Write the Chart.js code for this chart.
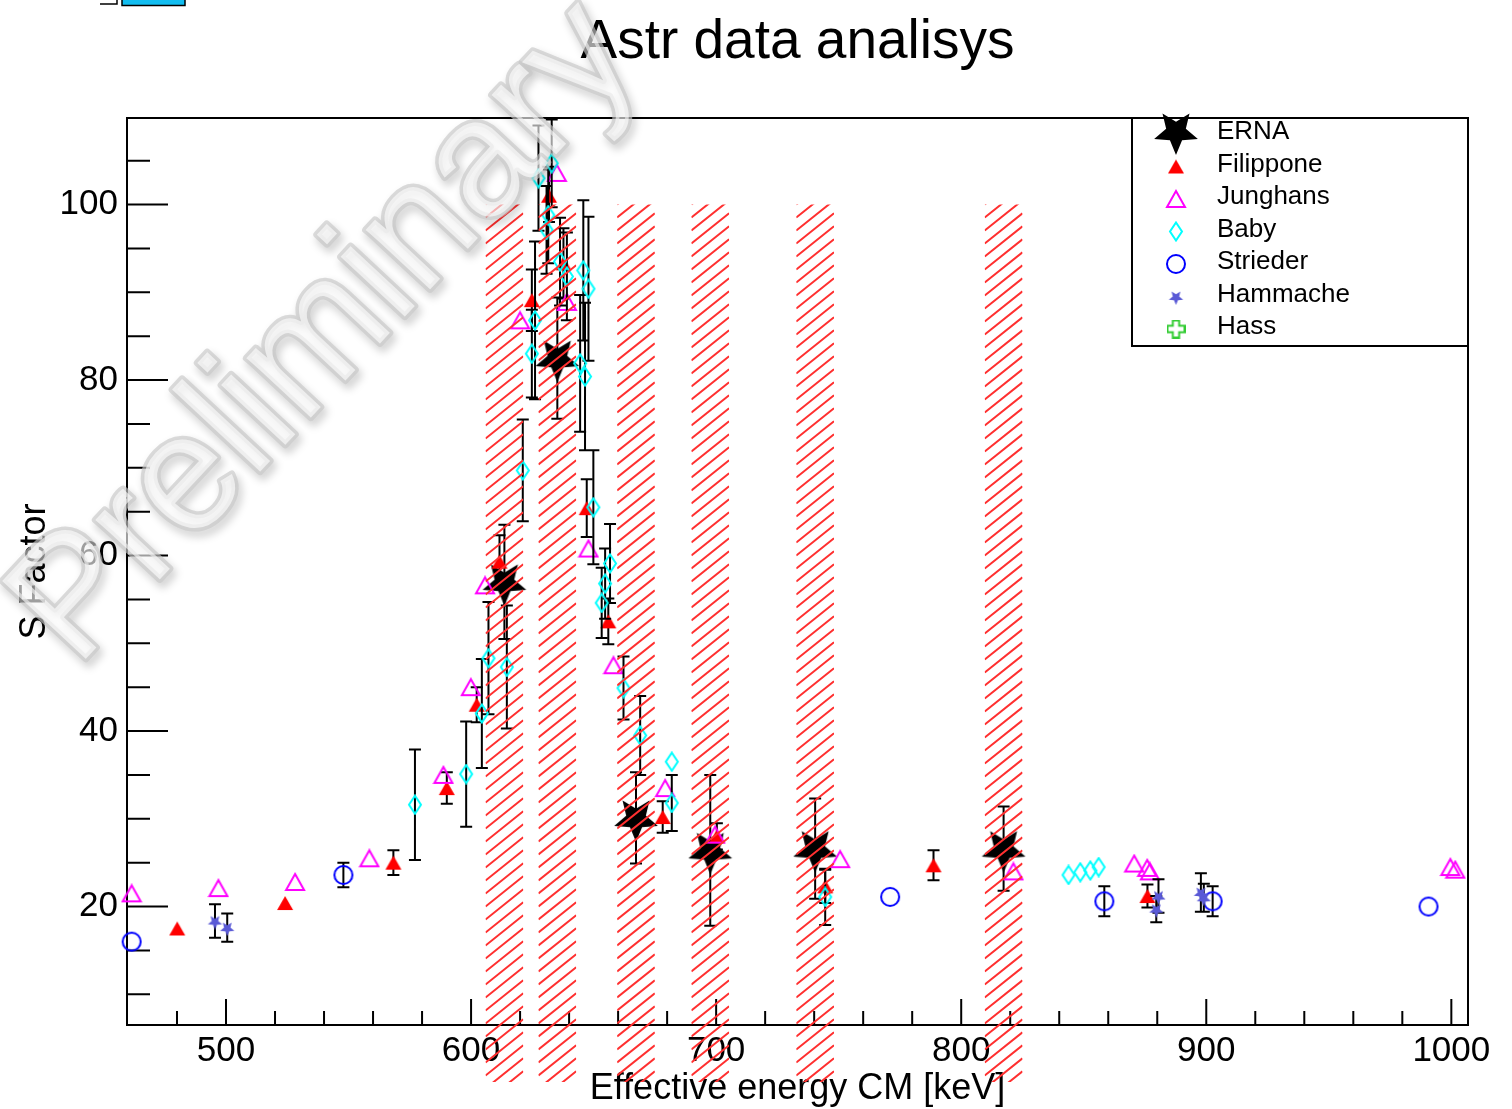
<!DOCTYPE html>
<html>
<head>
<meta charset="utf-8">
<script src="https://cdn.jsdelivr.net/npm/chart.js@4.4.0/dist/chart.umd.min.js"></script>
<style>
  html, body { margin: 0; padding: 0; background: #fff; }
  canvas { display: block; }
</style>
</head>
<body>
<canvas id="sfactor" width="1512" height="1109"></canvas>
<script>
// S factor vs effective CM energy, one set of arrays per experiment
var ernaE   = [613.6, 635.2, 667.3, 697.6, 740.4, 817.3];
var ernaS   = [57.0, 82.5, 30.1, 26.4, 26.6, 26.6];
var ernaErr = [6.5, 6.9, 5.2, 8.6, 5.7, 4.8];

var filipponeE   = [480.1, 524.1, 568.3, 590.1, 602.3, 611.6, 624.8, 631.8, 637.7, 647.2, 656.0, 678.2, 700.3, 744.5, 788.7, 876.0];
var filipponeS   = [17.5, 20.4, 25.0, 33.5, 43.0, 59.3, 89.1, 101.0, 93.3, 65.4, 52.5, 30.2, 28.0, 22.3, 24.7, 21.2];
var filipponeErr = [0, 0, 1.4, 1.8, 2.0, 3.0, 3.5, 3.0, 4.0, 3.3, 2.6, 1.8, 1.5, 1.9, 1.7, 1.3];

var junghansE = [461.5, 496.9, 528.2, 558.5, 588.7, 599.9, 605.7, 620.0, 635.0, 639.1, 647.9, 658.1, 679.2, 699.6, 750.6, 821.3, 870.6, 875.9, 877.0, 999.6, 1001.6];
var junghansS = [21.5, 22.1, 22.8, 25.5, 35.0, 45.0, 56.6, 86.8, 103.6, 88.9, 60.8, 47.5, 33.5, 28.2, 25.4, 24.0, 24.9, 24.4, 24.0, 24.5, 24.2];

var babyE   = [577.1, 598.0, 604.4, 607.1, 614.6, 621.1, 624.8, 626.1, 627.5, 630.8, 631.5, 632.9, 636.3, 639.1, 644.5, 645.8, 646.5, 647.9, 649.9, 653.3, 654.7, 656.7, 662.2, 669.0, 681.9, 681.9, 744.5, 843.8, 848.6, 852.7, 856.1];
var babyS   = [31.6, 35.1, 42.0, 48.3, 47.3, 69.7, 83.0, 86.8, 103.0, 97.1, 98.8, 104.7, 93.5, 91.8, 81.9, 92.5, 80.4, 90.4, 65.5, 54.6, 56.8, 59.1, 44.9, 39.5, 36.5, 31.8, 21.1, 23.6, 23.9, 24.1, 24.5];
var babyErr = [6.3, 6.0, 6.2, 6.4, 7.0, 5.8, 5.0, 9.0, 6.0, 5.0, 5.5, 5.0, 5.0, 5.0, 7.8, 8.0, 8.4, 8.2, 6.5, 4.0, 4.0, 4.5, 3.6, 4.5, 0, 3.2, 3.2, 0, 0, 0, 0];

var striederE   = [461.5, 547.9, 771.0, 858.4, 902.6, 990.7];
var striederS   = [16.0, 23.6, 21.1, 20.6, 20.6, 20.0];
var striederErr = [0, 1.4, 0, 1.7, 1.7, 0];

var hammacheE   = [495.5, 500.5, 880.5, 879.6, 897.8, 899.0];
var hammacheS   = [18.35, 17.6, 21.2, 19.7, 21.6, 21.0];
var hammacheErr = [1.9, 1.6, 1.9, 1.5, 2.2, 1.6];

var hassE = [];
var hassS = [];

var xMajor = [500, 600, 700, 800, 900, 1000];
var yMajor = [20, 40, 60, 80, 100];
var ernaWindow = 7.7;   // half width (keV) of the hatched ERNA energy windows

var FONT = '"Liberation Sans", Arial, Helvetica, sans-serif';
Chart.defaults.font.family = FONT;
Chart.defaults.color = '#000';

// ROOT-like marker images
function marker(kind, color, w, h) {
  var c = document.createElement('canvas');
  c.width = w; c.height = h;
  var g = c.getContext('2d');
  var cx = w / 2, cy = h / 2;
  g.strokeStyle = color; g.fillStyle = color; g.lineWidth = 2;
  g.beginPath();
  if (kind === 'star') {
    var R = w / 2 - 1, r = R * 0.45;
    for (var k = 0; k < 10; k++) {
      var a = Math.PI / 2 + k * Math.PI / 5;
      var rr = (k % 2) ? r : R;
      var px = cx + rr * Math.cos(a), py = cy + 1 + rr * Math.sin(a);
      k ? g.lineTo(px, py) : g.moveTo(px, py);
    }
    g.closePath(); g.fill();
  } else if (kind === 'tri') {
    g.moveTo(cx, 1); g.lineTo(w - 1, h - 1); g.lineTo(1, h - 1); g.closePath(); g.fill();
  } else if (kind === 'otri') {
    g.moveTo(cx, 2); g.lineTo(w - 2, h - 2); g.lineTo(2, h - 2); g.closePath(); g.stroke();
  } else if (kind === 'diamond') {
    g.moveTo(cx, 1.5); g.lineTo(w - 2, cy); g.lineTo(cx, h - 1.5); g.lineTo(2, cy); g.closePath(); g.stroke();
  } else if (kind === 'circle') {
    g.arc(cx, cy, w / 2 - 2, 0, Math.PI * 2); g.stroke();
  } else if (kind === 'cross') {
    var t = w / 6;
    g.moveTo(cx - t, 1); g.lineTo(cx + t, 1); g.lineTo(cx + t, cy - t); g.lineTo(w - 1, cy - t);
    g.lineTo(w - 1, cy + t); g.lineTo(cx + t, cy + t); g.lineTo(cx + t, h - 1); g.lineTo(cx - t, h - 1);
    g.lineTo(cx - t, cy + t); g.lineTo(1, cy + t); g.lineTo(1, cy - t); g.lineTo(cx - t, cy - t);
    g.closePath(); g.stroke();
  }
  return c;
}

var markers = {
  erna: marker('star', '#000000', 48, 48),
  filippone: marker('tri', '#ff0000', 18, 16),
  junghans: marker('otri', '#ff00ff', 22, 20),
  baby: marker('diamond', '#00ffff', 16, 21),
  strieder: marker('circle', '#0000ff', 22, 22),
  hammache: marker('star', '#5a5ad6', 17, 17),
  hass: marker('cross', '#33cc33', 19, 19)
};

function pts(xs, ys) {
  return xs.map(function (x, i) { return { x: x, y: ys[i] }; });
}

function series(label, xs, ys, errs, mk, order) {
  return {
    label: label,
    data: pts(xs, ys),
    errors: errs || null,
    pointStyle: mk,
    pointRadius: 8,
    showLine: false,
    clip: false,
    order: order
  };
}

var datasets = [
  series('ERNA', ernaE, ernaS, ernaErr, markers.erna, 7),
  series('Filippone', filipponeE, filipponeS, filipponeErr, markers.filippone, 6),
  series('Junghans', junghansE, junghansS, null, markers.junghans, 5),
  series('Baby', babyE, babyS, babyErr, markers.baby, 4),
  series('Strieder', striederE, striederS, striederErr, markers.strieder, 3),
  series('Hammache', hammacheE, hammacheS, hammacheErr, markers.hammache, 2),
  series('Hass', hassE, hassS, null, markers.hass, 1)
];

// error bars are drawn right before the markers of each dataset
var errorBars = {
  id: 'errorBars',
  beforeDatasetDraw: function (chart, args) {
    var ds = chart.data.datasets[args.index];
    if (!ds.errors) return;
    var ctx = chart.ctx, x = chart.scales.x, y = chart.scales.y, a = chart.chartArea;
    ctx.save();
    ctx.beginPath(); ctx.rect(a.left, a.top, a.right - a.left, a.bottom - a.top); ctx.clip();
    ctx.strokeStyle = '#000'; ctx.lineWidth = 2;
    ctx.beginPath();
    ds.data.forEach(function (p, i) {
      var e = ds.errors[i];
      if (!e) return;
      var X = x.getPixelForValue(p.x);
      var y0 = y.getPixelForValue(p.y - e), y1 = y.getPixelForValue(p.y + e);
      ctx.moveTo(X, y0); ctx.lineTo(X, y1);
      ctx.moveTo(X - 6, y0); ctx.lineTo(X + 6, y0);
      ctx.moveTo(X - 6, y1); ctx.lineTo(X + 6, y1);
    });
    ctx.stroke();
    ctx.restore();
  }
};

// frame with inward ticks; the title is centred over the frame
var frame = {
  id: 'frame',
  afterLayout: function (chart) {
    if (chart.titleBlock) {
      chart.titleBlock.left = chart.chartArea.left;
      chart.titleBlock.right = chart.chartArea.right;
    }
  },
  beforeDatasetsDraw: function (chart) {
    var ctx = chart.ctx, a = chart.chartArea, x = chart.scales.x, y = chart.scales.y;
    ctx.save();
    ctx.strokeStyle = '#000'; ctx.lineWidth = 2;
    ctx.strokeRect(a.left, a.top, a.right - a.left, a.bottom - a.top);
    ctx.beginPath();
    x.ticks.forEach(function (t) {
      var p = x.getPixelForValue(t.value);
      var len = xMajor.indexOf(t.value) >= 0 ? 26 : 14;
      ctx.moveTo(p, a.bottom); ctx.lineTo(p, a.bottom - len);
    });
    y.ticks.forEach(function (t) {
      var p = y.getPixelForValue(t.value);
      var len = yMajor.indexOf(t.value) >= 0 ? 41 : 23;
      ctx.moveTo(a.left, p); ctx.lineTo(a.left + len, p);
    });
    ctx.stroke();
    ctx.restore();
  }
};

function hatchBox(ctx, x0, y0, x1, y1) {
  ctx.save();
  ctx.beginPath(); ctx.rect(x0, y0, x1 - x0, y1 - y0); ctx.clip();
  ctx.strokeStyle = '#ff3030'; ctx.lineWidth = 2;
  var w = x1 - x0, rise = w * 0.8;
  ctx.beginPath();
  for (var yy = y0; yy < y1 + rise; yy += 13) {
    ctx.moveTo(x0, yy); ctx.lineTo(x1, yy - rise);
  }
  ctx.stroke();
  ctx.restore();
}

function drawLegend(chart) {
  var ctx = chart.ctx;
  var box = { l: 1132, t: 118, r: 1468, b: 346 };
  ctx.save();
  ctx.fillStyle = '#fff';
  ctx.fillRect(box.l, box.t, box.r - box.l, box.b - box.t);
  ctx.strokeStyle = '#000'; ctx.lineWidth = 2;
  ctx.strokeRect(box.l, box.t, box.r - box.l, box.b - box.t);
  ctx.font = '26px ' + FONT;
  ctx.fillStyle = '#000'; ctx.textBaseline = 'middle'; ctx.textAlign = 'left';
  chart.data.datasets.forEach(function (ds, i) {
    var yy = 132 + i * 32.5;
    var m = ds.pointStyle;
    ctx.drawImage(m, 1176 - m.width / 2, yy + (i === 0 ? -1 : 2) - m.height / 2);
    ctx.fillText(ds.label, 1217, yy);
  });
  ctx.restore();
}

// translucent embossed "Preliminary" stamp
function drawWatermark(ctx) {
  ctx.save();
  ctx.translate(326, 334);
  ctx.rotate(-47 * Math.PI / 180);
  ctx.font = '166px ' + FONT;
  ctx.textAlign = 'center'; ctx.textBaseline = 'middle';
  ctx.lineJoin = 'round';
  ctx.shadowColor = 'rgba(0,0,0,0.32)'; ctx.shadowBlur = 9;
  ctx.shadowOffsetX = 3; ctx.shadowOffsetY = 5;
  ctx.strokeStyle = 'rgba(200,200,200,0.65)'; ctx.lineWidth = 7;
  ctx.strokeText('Preliminary', 0, 0);
  ctx.shadowColor = 'transparent';
  ctx.fillStyle = 'rgba(255,255,255,0.62)';
  ctx.fillText('Preliminary', 0, 0);
  ctx.restore();
}

var overlays = {
  id: 'overlays',
  afterDraw: function (chart) {
    var ctx = chart.ctx, x = chart.scales.x, y = chart.scales.y;
    // hatched energy windows around each ERNA point, from S=0 to S=100
    ernaE.forEach(function (e) {
      hatchBox(ctx, x.getPixelForValue(e - ernaWindow), y.getPixelForValue(100),
               x.getPixelForValue(e + ernaWindow), y.getPixelForValue(0));
    });
    drawLegend(chart);
    drawWatermark(ctx);
    // small toolbar remnant in the top left corner
    ctx.save();
    ctx.fillStyle = '#12bdf0'; ctx.fillRect(122, 0, 63, 5);
    ctx.strokeStyle = '#000'; ctx.lineWidth = 1.5;
    ctx.beginPath();
    ctx.moveTo(122, 0); ctx.lineTo(122, 5.5); ctx.lineTo(185, 5.5); ctx.lineTo(185, 0);
    ctx.moveTo(100, 4); ctx.lineTo(117, 4); ctx.lineTo(117, 0);
    ctx.stroke();
    ctx.restore();
  }
};

function stepTicks(from, to, step) {
  return function (scale) {
    scale.ticks = [];
    for (var v = from; v <= to + 1e-9; v += step) scale.ticks.push({ value: v });
  };
}

var chart = new Chart(document.getElementById('sfactor'), {
  type: 'scatter',
  data: { datasets: datasets },
  options: {
    responsive: false,
    animation: false,
    devicePixelRatio: 1,
    layout: { padding: { right: 44 } },
    plugins: {
      legend: { display: false },
      tooltip: { enabled: false },
      title: {
        display: true,
        text: 'Astr data analisys',
        color: '#000',
        font: { size: 55, weight: 'normal', family: FONT },
        padding: { top: 10, bottom: 42 }
      }
    },
    scales: {
      x: {
        type: 'linear',
        min: 459.6,
        max: 1006.8,
        grid: { display: false, drawTicks: false },
        border: { display: false },
        afterBuildTicks: stepTicks(480, 1000, 20),
        afterFit: function (s) { s.height = 84; },
        ticks: {
          autoSkip: false, maxRotation: 0, padding: 5,
          font: { size: 35 }, color: '#000',
          callback: function (v) { return xMajor.indexOf(v) >= 0 ? String(v) : ''; }
        },
        title: {
          display: true, text: 'Effective energy CM [keV]', color: '#000',
          font: { size: 36 }, padding: { top: 0, bottom: -2 }
        }
      },
      y: {
        type: 'linear',
        min: 6.5,
        max: 109.86,
        grid: { display: false, drawTicks: false },
        border: { display: false },
        afterBuildTicks: stepTicks(10, 105, 5),
        afterFit: function (s) { s.width = 127; },
        ticks: {
          autoSkip: false, padding: 9,
          font: { size: 35 }, color: '#000',
          callback: function (v) { return yMajor.indexOf(v) >= 0 ? String(v) : ''; }
        },
        title: {
          display: true, text: 'S Factor', color: '#000',
          font: { size: 36 }, padding: { top: 13, bottom: 0 }
        }
      }
    }
  },
  plugins: [frame, errorBars, overlays]
});
</script>
</body>
</html>
